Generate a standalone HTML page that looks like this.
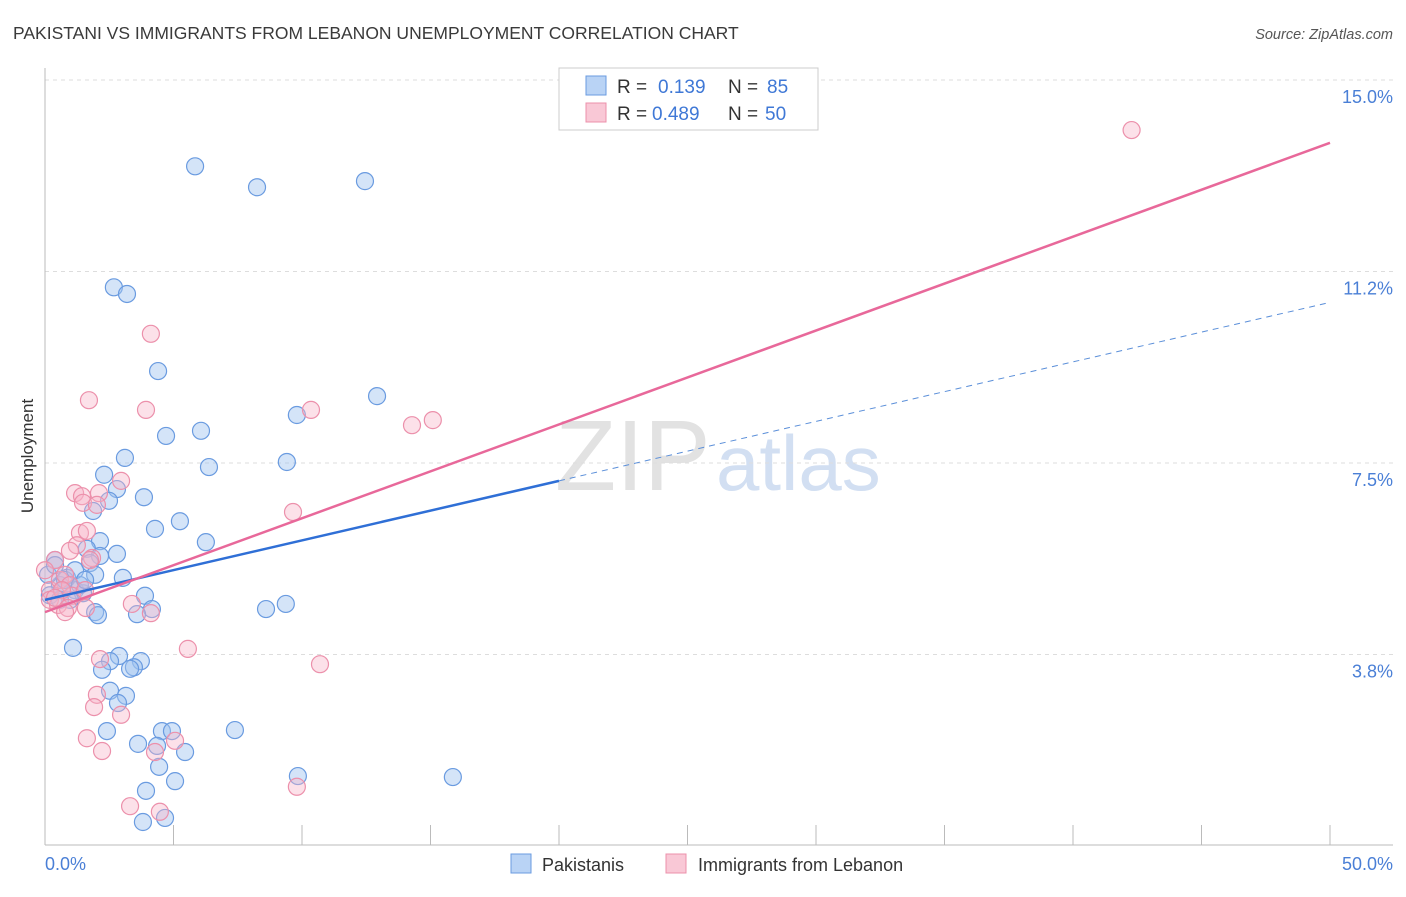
<!DOCTYPE html>
<html><head><meta charset="utf-8"><style>
body{margin:0;background:#fff;font-family:"Liberation Sans",sans-serif}
svg text{font-family:"Liberation Sans",sans-serif}
</style></head><body>
<svg width="1406" height="892" viewBox="0 0 1406 892" id="c">
<text x="13" y="39" font-size="17.5" fill="#3a3a3a">PAKISTANI VS IMMIGRANTS FROM LEBANON UNEMPLOYMENT CORRELATION CHART</text>
<text x="1393" y="39" font-size="14.5" fill="#555" text-anchor="end" font-style="italic">Source: ZipAtlas.com</text>
<text x="555" y="490" font-size="100" fill="#e2e2e2" font-family="Liberation Serif">ZIP</text>
<text x="716" y="490" font-size="78" fill="#d2dff2">atlas</text>
<g id="grid"></g>
<line x1="45" y1="68" x2="45" y2="845" stroke="#bbb"/>
<line x1="45" y1="845" x2="1393" y2="845" stroke="#bbb"/>
<g id="ticks"></g>
<text x="33" y="456" font-size="17" fill="#333" text-anchor="middle" transform="rotate(-90 33 456)">Unemployment</text>
<text x="45" y="870" font-size="18" fill="#4a7fd6">0.0%</text>
<text x="1393" y="870" font-size="18" fill="#4a7fd6" text-anchor="end">50.0%</text>
<g id="pts"></g>
<g id="lines"></g>
<g>
<rect x="559" y="68" width="259" height="62" fill="#fff" stroke="#ccc"/>
<rect x="586" y="76" width="20" height="19" fill="#b9d3f5" stroke="#6a9be0"/>
<text x="617" y="93" font-size="19" fill="#333">R = </text><text x="658" y="93" font-size="19" fill="#3f78d6">0.139</text>
<text x="728" y="93" font-size="19" fill="#333">N = </text><text x="767" y="93" font-size="19" fill="#3f78d6">85</text>
<rect x="586" y="103" width="20" height="19" fill="#f9c8d6" stroke="#ec90ab"/>
<text x="617" y="120" font-size="19" fill="#333">R = </text><text x="652" y="120" font-size="19" fill="#3f78d6">0.489</text>
<text x="728" y="120" font-size="19" fill="#333">N = </text><text x="765" y="120" font-size="19" fill="#3f78d6">50</text>
</g>
<g>
<rect x="511" y="854" width="20" height="19" fill="#b9d3f5" stroke="#6a9be0"/>
<text x="542" y="871" font-size="18" fill="#333">Pakistanis</text>
<rect x="666" y="854" width="20" height="19" fill="#f9c8d6" stroke="#ec90ab"/>
<text x="698" y="871" font-size="18" fill="#333">Immigrants from Lebanon</text>
</g>
</svg>
<script>
const yTicks=[3.75,7.5,11.25,15];
const yTickLabels=["3.8%","7.5%","11.2%","15.0%"];
const xTicks=[0,5,10,15,20,25,30,35,40,45,50];
const blueX=[5.84,8.25,12.45,2.68,3.19,4.40,12.92,4.71,6.07,9.80,3.11,6.38,9.41,2.30,2.80,2.49,3.85,1.87,5.25,4.28,6.26,2.14,1.63,2.80,2.14,0.39,1.75,3.03,1.95,0.86,1.17,0.58,0.19,1.48,3.89,4.16,3.58,1.95,2.06,8.60,9.37,1.09,2.88,2.53,3.73,2.22,3.46,3.31,2.53,3.15,2.84,2.41,4.55,4.94,7.39,3.62,4.36,5.45,4.44,9.84,15.87,5.06,3.93,3.81,4.67,0.66,0.97,0.12,0.39,0.78,1.36,1.17,0.58,1.56];
const blueY=[13.31,12.90,13.02,10.94,10.81,9.30,8.81,8.03,8.13,8.44,7.60,7.42,7.52,7.27,6.99,6.76,6.83,6.56,6.36,6.21,5.95,5.97,5.82,5.72,5.68,5.60,5.54,5.25,5.31,5.25,5.01,5.11,4.91,4.95,4.90,4.64,4.54,4.58,4.52,4.64,4.74,3.88,3.72,3.62,3.62,3.45,3.50,3.47,3.04,2.94,2.80,2.25,2.25,2.25,2.27,2.00,1.96,1.84,1.55,1.37,1.35,1.27,1.08,0.47,0.55,5.01,4.82,5.31,5.50,5.21,5.11,5.40,4.82,5.21];
const pinkX=[42.28,4.12,1.71,3.93,10.35,14.28,15.09,1.17,1.44,2.10,2.96,1.48,2.02,1.36,1.63,1.24,0.97,1.83,9.65,3.38,4.12,1.59,5.56,2.14,10.70,2.02,1.91,2.96,1.63,2.22,4.28,5.06,9.80,3.31,4.47,0.39,0.19,0.58,0.78,0.97,0.19,0.51,0.0,1.05,0.66,0.39,0.89,1.56,0.78,1.75];
const pinkY=[14.02,10.03,8.73,8.54,8.54,8.24,8.34,6.91,6.85,6.91,7.15,6.72,6.68,6.13,6.17,5.89,5.78,5.64,6.54,4.74,4.56,4.66,3.86,3.66,3.56,2.96,2.72,2.57,2.11,1.86,1.84,2.06,1.16,0.78,0.67,5.60,5.01,5.21,5.31,5.11,4.82,4.72,5.40,4.90,5.01,4.86,4.66,5.01,4.58,5.60];
const blueFit=[4.82,0.1165]; const blueSolidEnd=20;
const pinkFit=[4.58,0.1838];
const NS="http://www.w3.org/2000/svg";
const sx=v=>45+v/50*1285, sy=v=>846-v/3.75*191.5;
function mk(p,t,a){const e=document.createElementNS(NS,t);for(const k in a)e.setAttribute(k,a[k]);document.getElementById(p).appendChild(e);return e;}
yTicks.forEach((t,i)=>{
 const l=mk('grid','line',{x1:45,x2:1393,y1:sy(t),y2:sy(t),stroke:'#ddd','stroke-dasharray':'4,4'});
 
 
 const tx=mk('grid','text',{x:1393,y:sy(t)+23,'font-size':18,fill:'#4a7fd6','text-anchor':'end'});
 tx.textContent=yTickLabels[i];
 
 
});
xTicks.forEach(t=>{
 const l=mk('ticks','line',{x1:sx(t),x2:sx(t),y1:825,y2:845,stroke:'#bbb'});
 
 
});
blueX.forEach((x,i)=>{
 const c=mk('pts','circle',{cx:sx(x),cy:sy(blueY[i]),r:8.5,fill:'rgba(160,195,240,0.45)',stroke:'#6a9be0','stroke-width':1.2});
 
 
});
pinkX.forEach((x,i)=>{
 const c=mk('pts','circle',{cx:sx(x),cy:sy(pinkY[i]),r:8.5,fill:'rgba(247,180,200,0.4)',stroke:'#ec90ab','stroke-width':1.2});
 
 
});
const bf=x=>blueFit[0]+blueFit[1]*x, pf=x=>pinkFit[0]+pinkFit[1]*x;
let l1=mk('lines','line',{x1:sx(0),y1:sy(bf(0)),x2:sx(blueSolidEnd),y2:sy(bf(blueSolidEnd)),stroke:'#2f6fd6','stroke-width':2.5});


let l2=mk('lines','line',{x1:sx(blueSolidEnd),y1:sy(bf(blueSolidEnd)),x2:sx(50),y2:sy(bf(50)),stroke:'#5b8fd9','stroke-width':1,'stroke-dasharray':'6,5'});


let l3=mk('lines','line',{x1:sx(0),y1:sy(pf(0)),x2:sx(50),y2:sy(pf(50)),stroke:'#e8689a','stroke-width':2.5});


</script>
</body></html>
